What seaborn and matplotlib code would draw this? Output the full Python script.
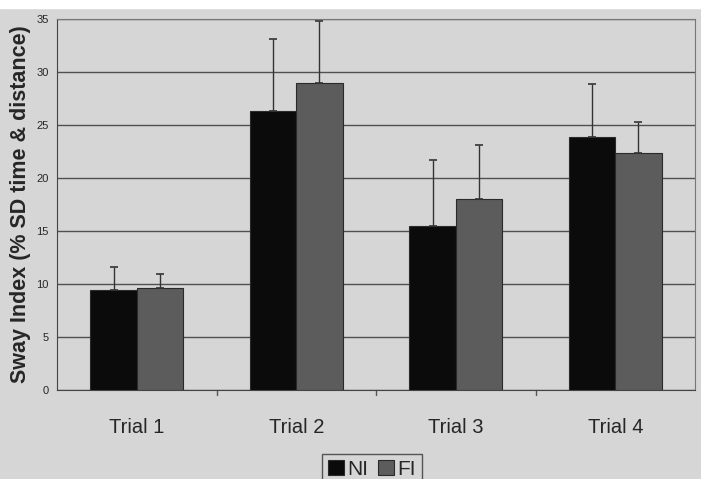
import seaborn as sns
import matplotlib.pyplot as plt
import pandas as pd
from matplotlib.patches import Rectangle

trials = ["Trial 1", "Trial 2", "Trial 3", "Trial 4"]
groups = ["NI", "FI"]
ni_mean = [9.4, 26.3, 15.5, 23.9]
fi_mean = [9.6, 29.0, 18.0, 22.4]
ni_sd = [2.2, 6.8, 6.2, 5.0]
fi_sd = [1.3, 5.8, 5.1, 2.9]

df = pd.DataFrame({
    "trial": trials * 2,
    "group": ["NI"] * 4 + ["FI"] * 4,
    "value": ni_mean + fi_mean,
})

bg = "#d6d6d6"
sns.set_style("white")
plt.rcParams["font.family"] = ["Liberation Sans", "DejaVu Sans"]

fig = plt.figure(figsize=(7.01, 4.79), dpi=100, facecolor=bg)
ax = fig.add_axes([57 / 701, 1 - 390 / 479, 638 / 701, 371 / 479])
ax.set_facecolor(bg)

sns.barplot(data=df, x="trial", y="value", hue="group", order=trials,
            hue_order=groups, palette=["#0b0b0b", "#5c5c5c"], width=0.58,
            edgecolor="#2a2a2a", linewidth=0.8, errorbar=None, ax=ax, zorder=3)

# one-sided (upward) error bars
for cont, sds in zip(ax.containers, [ni_sd, fi_sd]):
    for p, sd in zip(cont.patches, sds):
        xc = p.get_x() + p.get_width() / 2
        ax.errorbar(xc, p.get_height(), yerr=[[0], [sd]], fmt="none",
                    ecolor="#333333", elinewidth=1, capsize=3, capthick=1.2,
                    zorder=4)

ax.set_ylim(0, 35)
ax.set_yticks(range(0, 36, 5))
ax.set_xlim(-0.5, 3.5)
ax.yaxis.grid(True, color="#505050", linewidth=1, zorder=0)
ax.set_axisbelow(True)
ax.tick_params(axis="y", labelsize=8, length=4, color="#444444", pad=2)
ax.tick_params(axis="x", labelsize=14.5, length=0, pad=20)
ax.set_xlabel("")
ax.set_ylabel("Sway Index (% SD time & distance)", fontsize=15.5,
              fontweight="bold", labelpad=4)
for s in ["top", "right"]:
    ax.spines[s].set_color("#777777")
for s in ["left", "bottom"]:
    ax.spines[s].set_color("#444444")

# minor separators between categories on bottom axis
for xb in [0.5, 1.5, 2.5]:
    ax.plot([xb, xb], [0, -0.5], color="#555555", lw=1, clip_on=False)

leg = ax.legend(loc="lower center", bbox_to_anchor=(372 / 701, -0.035),
                bbox_transform=fig.transFigure, ncol=2, fontsize=15,
                frameon=True, fancybox=False, edgecolor="#333333",
                facecolor=bg, handlelength=0.75, handleheight=0.75,
                handletextpad=0.15, columnspacing=0.5, borderpad=0.3)
leg.get_frame().set_linewidth(1)

fig.add_artist(Rectangle((0, 1 - 8 / 479), 1, 8 / 479,
                         transform=fig.transFigure, color="white", zorder=10))

fig.savefig("out.png", dpi=100, facecolor=bg)
